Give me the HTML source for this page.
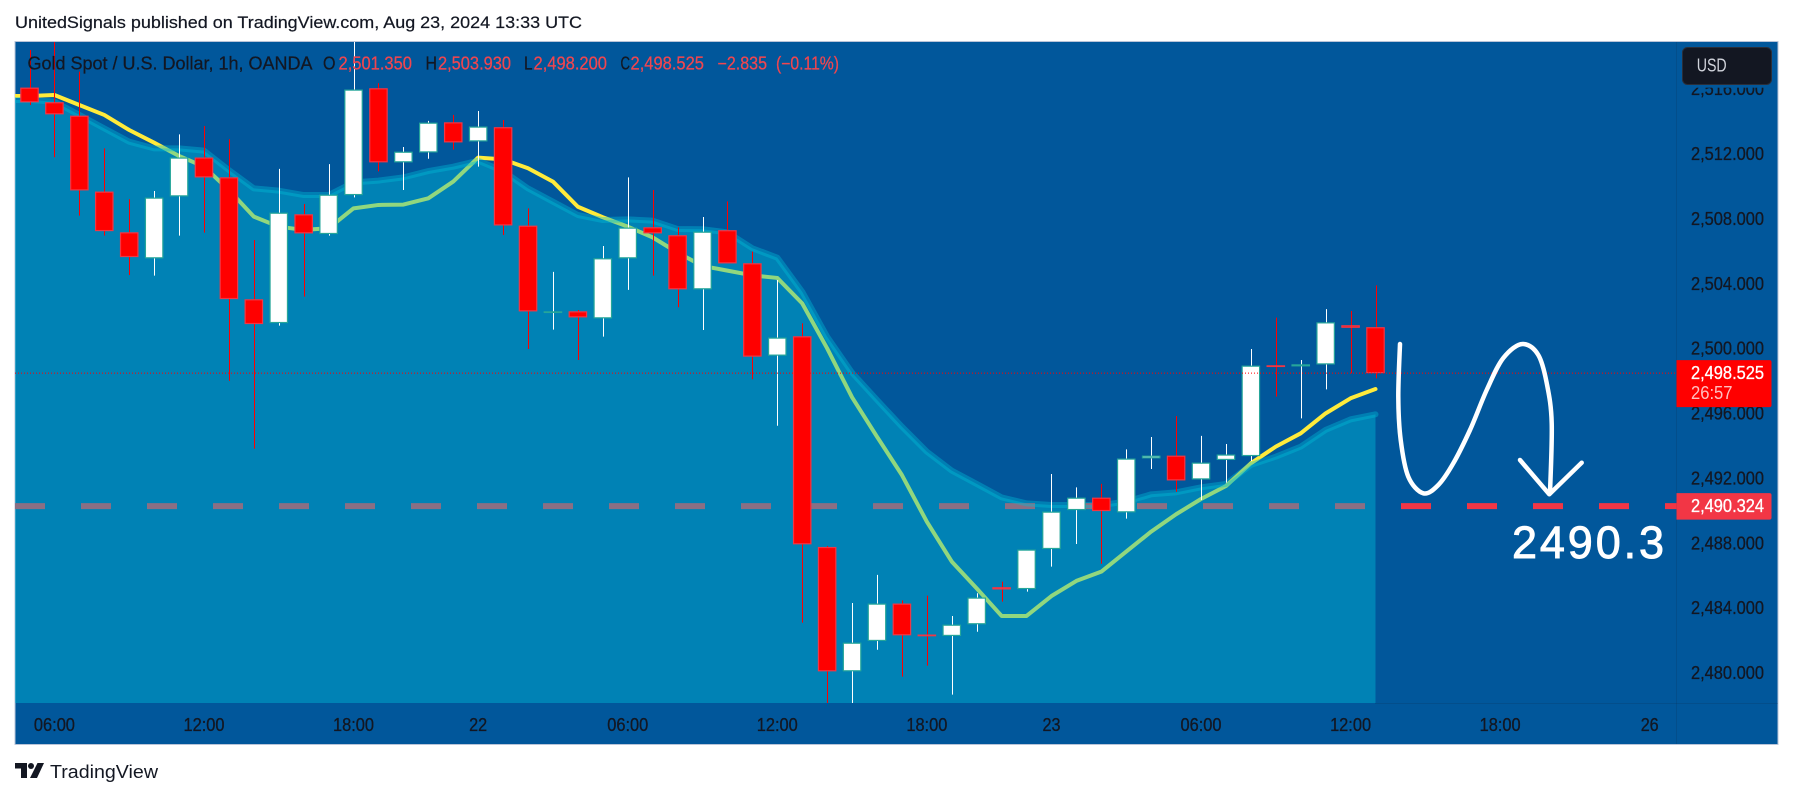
<!DOCTYPE html>
<html lang="en">
<head>
<meta charset="utf-8">
<title>Gold Spot / U.S. Dollar, 1h, OANDA</title>
<style>
html,body{margin:0;padding:0;background:#fff;}
svg{display:block;font-family:"Liberation Sans",sans-serif;}
</style>
</head>
<body>
<svg id="chart" xmlns="http://www.w3.org/2000/svg" width="1793" height="798" viewBox="0 0 1793 798">
  <defs>
    <clipPath id="plot-clip"><rect x="15" y="42" width="1661.5" height="661"/></clipPath>
  </defs>
  <rect x="0" y="0" width="1793" height="798" fill="#ffffff"/>
  <text x="15" y="28" font-size="17" fill="#131722" stroke="#131722" stroke-width="0.2" textLength="567" lengthAdjust="spacingAndGlyphs">UnitedSignals published on TradingView.com, Aug 23, 2024 13:33 UTC</text>
  <rect x="15" y="41.5" width="1763" height="703" fill="#01579b" stroke="#b9c4d8" stroke-width="1"/>
  <g id="plot" clip-path="url(#plot-clip)"></g>
  <line x1="1676.5" y1="42" x2="1676.5" y2="744" stroke="#13172222" stroke-width="1"/>
  <line x1="1375" y1="703.5" x2="1778" y2="703.5" stroke="#13172222" stroke-width="1"/>
  <g id="price-axis"></g>
  <g id="time-axis"></g>

  <g fill="none" stroke="#ffffff" stroke-width="4.5" stroke-linecap="round" stroke-linejoin="round">
    <path d="M1400 344 C1399.7 352.8 1398.2 380.7 1398.3 396.7 C1398.4 412.7 1399 426.7 1400.7 440 C1402.4 453.3 1404.5 467.8 1408.3 476.7 C1412.1 485.6 1418.3 491.9 1423.3 493.3 C1428.3 494.7 1433.3 490 1438.3 485 C1443.3 480 1448 472.5 1453.3 463.3 C1458.6 454.1 1464.4 442.2 1470 430 C1475.6 417.8 1481.2 402 1486.7 390 C1492.3 378 1497.2 365.7 1503.3 358 C1509.4 350.3 1517.5 343.5 1523.3 344 C1529.1 344.5 1534.4 348.5 1538.3 355 C1542.2 361.5 1544.5 371.7 1546.7 383 C1548.9 394.3 1551.2 404.6 1551.7 423 C1552.3 441.4 1550.3 481.6 1550 493.3"/>
    <path d="M1520 460 L1549.3 494.3 L1581.7 462.7"/>
  </g>
  <text x="1512" y="558" font-size="45" fill="#ffffff" stroke="#ffffff" stroke-width="0.9" textLength="152" lengthAdjust="spacing">2490.3</text>

  <g font-size="18" stroke-width="0.25">
    <text x="27.5" y="69.5" fill="#131722" stroke="#131722" textLength="285" lengthAdjust="spacingAndGlyphs">Gold Spot / U.S. Dollar, 1h, OANDA</text>
    <text x="323" y="69.5" fill="#131722" stroke="#131722" textLength="12.5" lengthAdjust="spacingAndGlyphs">O</text>
    <text x="338.5" y="69.5" fill="#f0464f" stroke="#f0464f" textLength="73.5" lengthAdjust="spacingAndGlyphs">2,501.350</text>
    <text x="425.5" y="69.5" fill="#131722" stroke="#131722" textLength="11.5" lengthAdjust="spacingAndGlyphs">H</text>
    <text x="438" y="69.5" fill="#f0464f" stroke="#f0464f" textLength="73" lengthAdjust="spacingAndGlyphs">2,503.930</text>
    <text x="524" y="69.5" fill="#131722" stroke="#131722" textLength="8.5" lengthAdjust="spacingAndGlyphs">L</text>
    <text x="533.5" y="69.5" fill="#f0464f" stroke="#f0464f" textLength="73.5" lengthAdjust="spacingAndGlyphs">2,498.200</text>
    <text x="620.5" y="69.5" fill="#131722" stroke="#131722" textLength="9.5" lengthAdjust="spacingAndGlyphs">C</text>
    <text x="630.5" y="69.5" fill="#f0464f" stroke="#f0464f" textLength="73.5" lengthAdjust="spacingAndGlyphs">2,498.525</text>
    <text x="717.5" y="69.5" fill="#f0464f" stroke="#f0464f" textLength="49.5" lengthAdjust="spacingAndGlyphs">−2.835</text>
    <text x="776" y="69.5" fill="#f0464f" stroke="#f0464f" textLength="63" lengthAdjust="spacingAndGlyphs">(−0.11%)</text>
  </g>

  <g id="price-labels"></g>

  <rect x="1677" y="46" width="100.5" height="41.7" fill="#01579b"/>
  <g>
    <rect x="1682.5" y="47.5" width="89" height="37" rx="5" fill="#131722" stroke="#2a2e39" stroke-width="1"/>
    <text x="1696.7" y="71.5" font-size="18" fill="#d1d4dc" textLength="30" lengthAdjust="spacingAndGlyphs">USD</text>
  </g>

  <g>
    <path d="M15 763H27V778H21V768.5H15Z" fill="#131722"/>
    <circle cx="31" cy="766" r="3" fill="#131722"/>
    <path d="M37.5 763H44L37 778H30Z" fill="#131722"/>
    <text x="50" y="778" font-size="18" fill="#131722" textLength="108" lengthAdjust="spacingAndGlyphs">TradingView</text>
  </g>
</svg>

<script>
// ---- chart data ----
const opens = [2516.12,2515.22,2514.39,2509.71,2507.20,2505.60,2509.42,2511.81,2510.59,2503.07,2501.61,2508.31,2507.10,2509.50,2516.08,2511.52,2512.13,2513.98,2512.81,2513.68,2507.61,2502.33,2502.33,2501.90,2505.60,2507.51,2507.02,2503.69,2507.33,2505.29,2499.60,2500.79,2487.80,2480.14,2482.01,2484.31,2482.40,2482.32,2483.04,2485.32,2485.21,2487.68,2490.08,2490.84,2489.94,2493.27,2493.43,2491.97,2493.17,2493.41,2499.00,2498.94,2499.06,2501.47,2501.35];
const highs = [2518.44,2519.47,2517.11,2512.38,2509.24,2509.75,2513.24,2513.76,2512.94,2506.73,2511.11,2508.95,2511.41,2519.88,2516.39,2512.46,2514.07,2514.44,2514.68,2514.13,2508.68,2504.76,2502.41,2506.36,2510.59,2509.81,2507.51,2508.15,2509.11,2506.01,2504.26,2501.59,2487.86,2484.35,2486.08,2484.51,2484.80,2483.55,2484.95,2485.67,2487.64,2492.30,2491.48,2491.69,2493.82,2494.58,2495.88,2494.65,2494.15,2500.01,2501.94,2499.33,2502.47,2502.35,2503.93];
const lows = [2515.05,2511.83,2508.23,2507.00,2504.57,2504.53,2507.00,2507.18,2498.04,2493.86,2501.45,2503.24,2507.00,2509.36,2510.96,2509.81,2511.74,2512.30,2511.25,2507.04,2500.01,2501.20,2499.33,2500.77,2503.65,2504.53,2502.58,2501.18,2505.29,2498.14,2495.28,2483.14,2477.75,2477.75,2481.47,2479.81,2480.49,2478.70,2482.58,2484.43,2485.05,2486.59,2487.99,2486.77,2489.55,2492.61,2491.21,2490.70,2491.77,2493.10,2497.07,2495.73,2497.52,2498.51,2498.20];
const closes = [2515.22,2514.48,2509.79,2507.28,2505.68,2509.34,2511.81,2510.59,2503.09,2501.55,2508.41,2507.14,2509.52,2516.00,2511.52,2512.17,2513.96,2512.75,2513.72,2507.63,2502.33,2502.33,2501.96,2505.60,2507.49,2507.14,2503.69,2507.24,2505.29,2499.54,2500.71,2487.97,2480.14,2481.90,2484.31,2482.36,2482.36,2483.01,2484.68,2485.19,2487.64,2489.98,2490.84,2490.02,2493.25,2493.43,2491.91,2493.00,2493.50,2498.98,2498.95,2499.06,2501.65,2501.32,2498.525];
const maLine = [2515.61,2515.67,2515.05,2514.44,2513.51,2512.73,2511.91,2511.25,2509.81,2508.17,2507.55,2507.35,2507.45,2508.68,2508.89,2508.91,2509.30,2510.33,2511.81,2511.70,2511.15,2510.33,2508.78,2508.13,2507.55,2506.89,2505.95,2505.13,2504.84,2504.55,2504.39,2502.82,2500.05,2497.03,2494.60,2492.24,2489.36,2486.90,2485.25,2483.55,2483.55,2484.78,2485.71,2486.28,2487.52,2488.75,2489.82,2490.76,2491.56,2492.96,2493.99,2494.81,2496.04,2496.97,2497.54];
const areaLine = [2515.36,2515.26,2514.44,2513.61,2512.79,2512.38,2512.38,2512.24,2511.04,2509.91,2509.77,2509.50,2509.50,2510.28,2510.39,2510.59,2510.98,2511.25,2511.62,2510.98,2509.91,2509.09,2508.27,2507.96,2508.00,2507.92,2507.41,2507.39,2507.20,2506.22,2505.64,2503.54,2500.77,2498.55,2496.87,2495.22,2493.68,2492.51,2491.69,2490.86,2490.49,2490.39,2490.39,2490.39,2490.60,2491.05,2491.17,2491.48,2491.69,2492.86,2493.37,2493.99,2495.02,2495.67,2495.98];
const priceTicks = [2516,2512,2508,2504,2500,2496,2492,2488,2484,2480];
const timeTickLabels = ["06:00","12:00","18:00","22","06:00","12:00","18:00","23","06:00","12:00","18:00","26"];
const timeTickBars = [1,7,13,18,24,30,36,41,47,53,59,65];
const lastPrice = 2498.525;
const targetPrice = 2490.324;
const countdown = "26:57";

// ---- axis functions ----
const xAt = i => 29.5 + i * 24.926;
const yAt = p => 154.5 + (2512 - p) * 16.22;
const plotLeft = 15, plotRight = 1676.5, plotBottom = 703;
const fmt = p => p.toFixed(3).replace(/^(\d)(\d{3})/, '$1,$2');

const NS = 'http://www.w3.org/2000/svg';
function make(parent, tag, attrs, text) {
  const el = document.createElementNS(NS, tag);
  for (const k in attrs) el.setAttribute(k, attrs[k]);
  if (text !== undefined) el.textContent = text;
  parent.appendChild(el);
  return el;
}
const plot = document.getElementById('plot');
const priceAxis = document.getElementById('price-axis');
const timeAxis = document.getElementById('time-axis');
const priceLabels = document.getElementById('price-labels');

// target dashed line, under the area fill
const dash = make(plot, 'line', {x1: plotLeft, x2: plotRight, y1: yAt(targetPrice), y2: yAt(targetPrice), stroke: '#f23645', 'stroke-width': 6, 'stroke-dasharray': '30 36', 'stroke-dashoffset': 0});



// moving average, under the area fill
const maPts = maLine.map((v, i) => xAt(i) + ',' + yAt(v));
const ma = make(plot, 'polyline', {points: plotLeft + ',' + yAt(maLine[0]) + ' ' + maPts.join(' '), fill: 'none', stroke: '#ffeb3b', 'stroke-width': 4, 'stroke-linejoin': 'round', 'stroke-linecap': 'round'});



// area series
const areaPts = areaLine.map((v, i) => xAt(i) + ',' + yAt(v));
const lastX = xAt(areaLine.length - 1);
const area = make(plot, 'polygon', {points: plotLeft + ',' + plotBottom + ' ' + plotLeft + ',' + yAt(areaLine[0]) + ' ' + areaPts.join(' ') + ' ' + lastX + ',' + plotBottom, fill: 'rgba(0,188,216,0.43)'});


const areaStroke = make(plot, 'polyline', {points: plotLeft + ',' + yAt(areaLine[0]) + ' ' + areaPts.join(' '), fill: 'none', stroke: 'rgba(0,188,216,0.4)', 'stroke-width': 6, 'stroke-linejoin': 'round', 'stroke-linecap': 'round'});



// candles
opens.forEach((o, i) => {
  const c = closes[i];
  const up = c >= o;
  const x = xAt(i);
  const wx = Math.round(x) + 0.5;
  const wick = make(plot, 'line', {x1: wx, x2: wx, y1: yAt(highs[i]), y2: yAt(lows[i]), stroke: up ? '#ffffff' : '#ff0000', 'stroke-width': 1});
  
  
  const top = yAt(Math.max(o, c));
  const h = Math.max(yAt(Math.min(o, c)) - top - 1, 0.6);
  const body = make(plot, 'rect', {x: x - 8.7, y: top + 0.5, width: 17.4, height: h, fill: up ? '#ffffff' : '#ff0000', stroke: up ? '#26a69a' : '#f23645', 'stroke-width': 1.2});
  
  
});

// last price dotted line
const lastLine = make(plot, 'line', {x1: plotLeft, x2: plotRight, y1: yAt(lastPrice), y2: yAt(lastPrice), stroke: '#ff0000', 'stroke-width': 1, 'stroke-dasharray': '1 2'});



// price axis ticks
priceTicks.forEach(p => {
  const t = make(priceAxis, 'text', {x: 1691, y: yAt(p) + 5.5, 'font-size': 18, fill: '#131722', stroke: '#131722', 'stroke-width': 0.3, textLength: 73, lengthAdjust: 'spacingAndGlyphs'}, fmt(p));
  
  
});

// time axis ticks
timeTickLabels.forEach((label, i) => {
  const t = make(timeAxis, 'text', {x: xAt(timeTickBars[i]), y: 731, 'font-size': 18, fill: '#131722', stroke: '#131722', 'stroke-width': 0.3, 'text-anchor': 'middle', textLength: label.length > 2 ? 41 : 18, lengthAdjust: 'spacingAndGlyphs'}, label);
  
  
});

// last price badge
const lastY = yAt(lastPrice);
const lastBox = make(priceLabels, 'path', {d: 'M1676.5 ' + (lastY - 13) + 'H1769.5a2 2 0 0 1 2 2V' + (lastY + 32) + 'a2 2 0 0 1 -2 2H1676.5Z', fill: '#ff0000'});


const lastText = make(priceLabels, 'text', {x: 1691, y: lastY + 6, 'font-size': 18, fill: '#ffffff', stroke: '#ffffff', 'stroke-width': 0.3, textLength: 73, lengthAdjust: 'spacingAndGlyphs'}, fmt(lastPrice));


const cd = make(priceLabels, 'text', {x: 1691, y: lastY + 26, 'font-size': 18, fill: '#ffffff', 'fill-opacity': 0.75, textLength: 41.5, lengthAdjust: 'spacingAndGlyphs'}, countdown);



// target price badge
const targetY = yAt(targetPrice);
const targetBox = make(priceLabels, 'path', {d: 'M1676.5 ' + (targetY - 13) + 'H1769.5a2 2 0 0 1 2 2V' + (targetY + 11.5) + 'a2 2 0 0 1 -2 2H1676.5Z', fill: '#f23645'});


const targetText = make(priceLabels, 'text', {x: 1691, y: targetY + 6, 'font-size': 18, fill: '#ffffff', stroke: '#ffffff', 'stroke-width': 0.3, textLength: 73, lengthAdjust: 'spacingAndGlyphs'}, fmt(targetPrice));


</script>
</body>
</html>
